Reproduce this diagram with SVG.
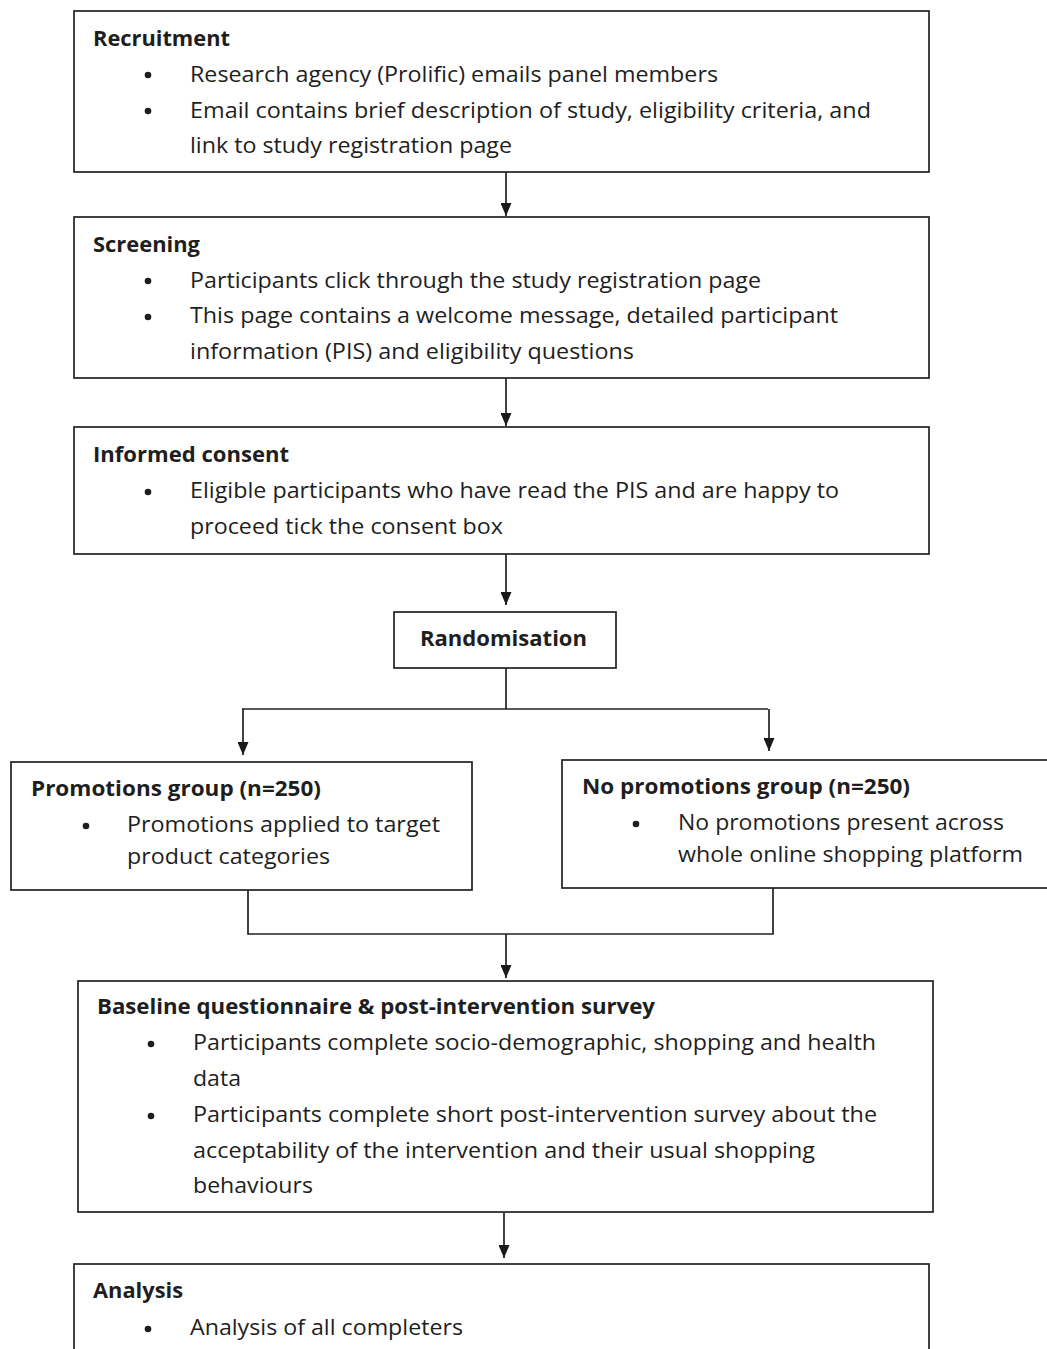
<svg xmlns="http://www.w3.org/2000/svg" width="1047" height="1349" viewBox="0 0 1047 1349">
<defs>
<marker id="ah" markerWidth="13" markerHeight="11" refX="13" refY="5.5" orient="auto" markerUnits="userSpaceOnUse" viewBox="0 0 13 11">
<path d="M0,0 L13,5.5 L0,11 Z" fill="#1a1a1a"/>
</marker>
<style>
.box{fill:#fff;stroke:#222;stroke-width:1.7}
.t{font-family:"Open Sans","Noto Sans",sans-serif;font-size:21px;fill:#1e1e1e}
.b{font-family:"Open Sans","Noto Sans",sans-serif;font-size:21px;font-weight:bold;fill:#1e1e1e}
.dot{fill:#1e1e1e}
.c{fill:none;stroke:#222;stroke-width:1.7}
</style>
</defs>
<rect width="1047" height="1349" fill="#fff"/>

<g id="connectors">
<line class="c" x1="506" y1="172" x2="506" y2="216" marker-end="url(#ah)"/>
<line class="c" x1="506" y1="378" x2="506" y2="426" marker-end="url(#ah)"/>
<line class="c" x1="506" y1="554" x2="506" y2="605" marker-end="url(#ah)"/>
<polyline class="c" points="506,668 506,709"/>
<polyline class="c" points="242,709 768,709"/>
<line class="c" x1="243" y1="709" x2="243" y2="755" marker-end="url(#ah)"/>
<line class="c" x1="769" y1="709" x2="769" y2="751" marker-end="url(#ah)"/>
<polyline class="c" points="248,890 248,934 773,934 773,888"/>
<line class="c" x1="506" y1="934" x2="506" y2="978" marker-end="url(#ah)"/>
<line class="c" x1="504" y1="1213" x2="504" y2="1258" marker-end="url(#ah)"/>
</g>

<g id="recruitment">
<rect class="box" x="74" y="11" width="855" height="161"/>
<text class="b" x="93" y="46" textLength="137" lengthAdjust="spacingAndGlyphs">Recruitment</text>
<circle class="dot" cx="148" cy="75" r="3.3"/>
<text class="t" x="190" y="82" textLength="528" lengthAdjust="spacingAndGlyphs">Research agency (Prolific) emails panel members</text>
<circle class="dot" cx="148" cy="111" r="3.3"/>
<text class="t" x="190" y="118" textLength="681" lengthAdjust="spacingAndGlyphs">Email contains brief description of study, eligibility criteria, and</text>
<text class="t" x="190" y="153" textLength="322" lengthAdjust="spacingAndGlyphs">link to study registration page</text>
</g>

<g id="screening">
<rect class="box" x="74" y="217" width="855" height="161"/>
<text class="b" x="93" y="252" textLength="107" lengthAdjust="spacingAndGlyphs">Screening</text>
<circle class="dot" cx="148" cy="281" r="3.3"/>
<text class="t" x="190" y="288" textLength="571" lengthAdjust="spacingAndGlyphs">Participants click through the study registration page</text>
<circle class="dot" cx="148" cy="317" r="3.3"/>
<text class="t" x="190" y="323" textLength="648" lengthAdjust="spacingAndGlyphs">This page contains a welcome message, detailed participant</text>
<text class="t" x="190" y="359" textLength="444" lengthAdjust="spacingAndGlyphs">information (PIS) and eligibility questions</text>
</g>

<g id="consent">
<rect class="box" x="74" y="427" width="855" height="127"/>
<text class="b" x="93" y="462" textLength="196" lengthAdjust="spacingAndGlyphs">Informed consent</text>
<circle class="dot" cx="148" cy="492" r="3.3"/>
<text class="t" x="190" y="498" textLength="649" lengthAdjust="spacingAndGlyphs">Eligible participants who have read the PIS and are happy to</text>
<text class="t" x="190" y="534" textLength="313" lengthAdjust="spacingAndGlyphs">proceed tick the consent box</text>
</g>

<g id="randomisation">
<rect class="box" x="394" y="612" width="222" height="56"/>
<text class="b" x="420" y="646" textLength="167" lengthAdjust="spacingAndGlyphs">Randomisation</text>
</g>

<g id="promotions">
<rect class="box" x="11" y="762" width="461" height="128"/>
<text class="b" x="31" y="796" textLength="290" lengthAdjust="spacingAndGlyphs">Promotions group (n=250)</text>
<circle class="dot" cx="86" cy="826" r="3.3"/>
<text class="t" x="127" y="832" textLength="313" lengthAdjust="spacingAndGlyphs">Promotions applied to target</text>
<text class="t" x="127" y="864" textLength="203" lengthAdjust="spacingAndGlyphs">product categories</text>
</g>

<g id="no-promotions">
<rect class="box" x="562" y="760" width="490" height="128"/>
<text class="b" x="582" y="794" textLength="328" lengthAdjust="spacingAndGlyphs">No promotions group (n=250)</text>
<circle class="dot" cx="636" cy="824" r="3.3"/>
<text class="t" x="678" y="830" textLength="326" lengthAdjust="spacingAndGlyphs">No promotions present across</text>
<text class="t" x="678" y="862" textLength="345" lengthAdjust="spacingAndGlyphs">whole online shopping platform</text>
</g>

<g id="baseline">
<rect class="box" x="78" y="981" width="855" height="231"/>
<text class="b" x="97" y="1014" textLength="558" lengthAdjust="spacingAndGlyphs">Baseline questionnaire &amp; post-intervention survey</text>
<circle class="dot" cx="151" cy="1044" r="3.3"/>
<text class="t" x="193" y="1050" textLength="683" lengthAdjust="spacingAndGlyphs">Participants complete socio-demographic, shopping and health</text>
<text class="t" x="193" y="1086" textLength="48" lengthAdjust="spacingAndGlyphs">data</text>
<circle class="dot" cx="151" cy="1116" r="3.3"/>
<text class="t" x="193" y="1122" textLength="684" lengthAdjust="spacingAndGlyphs">Participants complete short post-intervention survey about the</text>
<text class="t" x="193" y="1158" textLength="622" lengthAdjust="spacingAndGlyphs">acceptability of the intervention and their usual shopping</text>
<text class="t" x="193" y="1193" textLength="120" lengthAdjust="spacingAndGlyphs">behaviours</text>
</g>

<g id="analysis">
<rect class="box" x="74" y="1264" width="855" height="100"/>
<text class="b" x="93" y="1298" textLength="90" lengthAdjust="spacingAndGlyphs">Analysis</text>
<circle class="dot" cx="148" cy="1329" r="3.3"/>
<text class="t" x="190" y="1335" textLength="273" lengthAdjust="spacingAndGlyphs">Analysis of all completers</text>
</g>
</svg>
